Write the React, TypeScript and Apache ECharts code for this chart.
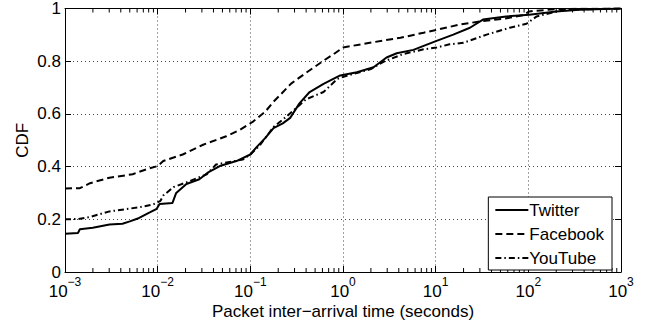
import React, { useEffect, useRef } from "react";
import * as echarts from "echarts";

// x values are log10(seconds); y values are CDF
const twitterX = [-3, -2.86, -2.84, -2.7, -2.52, -2.38, -2.3, -2.2, -2.08, -2.01, -1.98, -1.84, -1.8, -1.69, -1.55, -1.46, -1.33, -1.15, -1.0, -0.93, -0.84, -0.75, -0.65, -0.57, -0.47, -0.36, -0.21, -0.03, 0.15, 0.33, 0.47, 0.58, 0.76, 0.87, 1.01, 1.19, 1.37, 1.51, 1.76, 2.01, 2.3, 2.55, 3];
const twitterY = [0.145, 0.148, 0.162, 0.168, 0.18, 0.183, 0.192, 0.205, 0.227, 0.24, 0.258, 0.262, 0.3, 0.334, 0.352, 0.377, 0.402, 0.421, 0.446, 0.475, 0.508, 0.546, 0.564, 0.585, 0.64, 0.683, 0.714, 0.746, 0.758, 0.777, 0.814, 0.83, 0.843, 0.858, 0.877, 0.901, 0.927, 0.958, 0.97, 0.976, 0.989, 0.995, 1];

const facebookX = [-3, -2.84, -2.73, -2.52, -2.27, -2.12, -2.0, -1.94, -1.73, -1.51, -1.26, -1.11, -0.97, -0.84, -0.75, -0.68, -0.56, -0.39, -0.21, -0.1, 0.0, 0.29, 0.62, 0.87, 1.26, 1.48, 1.75, 1.95, 2.01, 2.3, 3];
const facebookY = [0.317, 0.318, 0.337, 0.358, 0.371, 0.39, 0.402, 0.421, 0.446, 0.483, 0.515, 0.54, 0.571, 0.608, 0.646, 0.671, 0.715, 0.758, 0.802, 0.827, 0.852, 0.87, 0.889, 0.908, 0.939, 0.951, 0.962, 0.975, 0.989, 0.998, 1];

const youtubeX = [-3, -2.86, -2.73, -2.52, -2.19, -2.05, -1.97, -1.94, -1.83, -1.69, -1.47, -1.37, -1.08, -1.0, -0.9, -0.75, -0.61, -0.47, -0.4, -0.21, -0.06, 0.04, 0.3, 0.45, 0.65, 0.87, 1.01, 1.15, 1.3, 1.55, 1.8, 1.98, 2.09, 2.38, 3];
const youtubeY = [0.2, 0.201, 0.209, 0.23, 0.246, 0.256, 0.27, 0.29, 0.322, 0.34, 0.371, 0.408, 0.427, 0.446, 0.48, 0.55, 0.59, 0.633, 0.655, 0.683, 0.733, 0.745, 0.77, 0.8, 0.827, 0.845, 0.852, 0.864, 0.87, 0.901, 0.927, 0.942, 0.97, 0.995, 1];

const decades = [-3, -2, -1, 0, 1, 2];
const minorMultipliers = [2, 3, 4, 5, 6, 7, 8, 9];
const seriesNames = ["Twitter", "Facebook", "YouTube"];

const FONT = "'Liberation Sans', Arial, Helvetica, sans-serif";

function pairs(xs: number[], ys: number[]) {
  return xs.map((x, i) => [x, ys[i]]);
}

export default function App() {
  const ref = useRef<HTMLDivElement>(null);
  useEffect(() => {
    document.body.style.margin = "0";
    if (!ref.current) return;
    const chart = echarts.init(ref.current, null, { renderer: "svg" });
    const minorTicks: number[][] = [];
    decades.forEach((d) => minorMultipliers.forEach((m) => minorTicks.push([d + Math.log10(m), 0])));

    const xBase = {
      type: "value",
      min: -3,
      max: 3,
      interval: 1,
      axisLine: { onZero: false, lineStyle: { color: "#000", width: 1 } },
      axisTick: { inside: true, length: 6, lineStyle: { color: "#000" } },
      splitLine: { show: false },
    };
    const yBase = {
      type: "value",
      min: 0,
      max: 1,
      interval: 0.2,
      axisLine: { onZero: false, lineStyle: { color: "#000", width: 1 } },
      axisTick: { inside: true, length: 6, lineStyle: { color: "#000" } },
      splitLine: { show: false },
    };

    chart.setOption({
      animation: false,
      backgroundColor: "#fff",
      textStyle: { fontFamily: FONT },
      grid: { left: 65, right: 31, top: 5, bottom: 56 },
      xAxis: [
        {
          ...xBase,
          position: "bottom",
          name: "Packet inter\u2212arrival time (seconds)",
          nameLocation: "middle",
          nameGap: 31,
          nameMoveOverlap: false,
          nameTextStyle: { fontSize: 17, color: "#000", fontFamily: FONT, lineHeight: 17 },
          splitLine: { show: true, lineStyle: { color: "#444", type: [1, 3], width: 1 } },
          axisLabel: {
            margin: 11,
            color: "#000",
            formatter: (v: number) => {
              const e = Math.round(v);
              return `{b|10}{s|${e < 0 ? "\u2212" : ""}${Math.abs(e)}}`;
            },
            rich: {
              b: { fontSize: 17, fontFamily: FONT, color: "#000", lineHeight: 17, verticalAlign: "bottom" },
              s: { fontSize: 12, fontFamily: FONT, color: "#000", lineHeight: 5, verticalAlign: "bottom", padding: [0, 0, 12, 0] },
            },
          },
        },
        {
          ...xBase,
          position: "top",
          axisLabel: { show: false },
        },
      ],
      yAxis: [
        {
          ...yBase,
          position: "left",
          name: "CDF",
          nameLocation: "middle",
          nameGap: 34,
          nameMoveOverlap: false,
          nameTextStyle: { fontSize: 17, color: "#000", fontFamily: FONT },
          splitLine: { show: true, lineStyle: { color: "#444", type: [1, 3], width: 1 } },
          axisLabel: { margin: 4, fontSize: 17, color: "#000", fontFamily: FONT },
        },
        {
          ...yBase,
          position: "right",
          axisLabel: { show: false },
        },
      ],
      legend: {
        data: seriesNames,
        orient: "vertical",
        right: 40,
        bottom: 58,
        backgroundColor: "#fff",
        borderColor: "#000",
        borderWidth: 1,
        borderRadius: 0,
        padding: [3, 8, 2, 6],
        itemWidth: 33,
        itemHeight: 12,
        itemGap: 4,
        itemStyle: { opacity: 0 },
        textStyle: { fontSize: 17, color: "#000", fontFamily: FONT, padding: [0, 0, 0, -4], lineHeight: 20 },
      },
      series: [
        {
          name: "Twitter",
          type: "line",
          data: pairs(twitterX, twitterY),
          symbol: "none",
          lineStyle: { color: "#000", width: 2, type: "solid" },
          itemStyle: { color: "#000" },
          z: 3,
        },
        {
          name: "Facebook",
          type: "line",
          data: pairs(facebookX, facebookY),
          symbol: "none",
          lineStyle: { color: "#000", width: 2, type: [7, 4] },
          itemStyle: { color: "#000" },
          z: 3,
        },
        {
          name: "YouTube",
          type: "line",
          data: pairs(youtubeX, youtubeY),
          symbol: "none",
          lineStyle: { color: "#000", width: 2, type: [6, 3, 1.5, 3] },
          itemStyle: { color: "#000" },
          z: 3,
        },
        {
          name: "minorTicks",
          type: "custom",
          silent: true,
          data: minorTicks,
          z: 2,
          renderItem: (params: any, api: any) => {
            const v = api.value(0);
            const b = api.coord([v, 0]);
            const t = api.coord([v, 1]);
            return {
              type: "group",
              children: [
                { type: "line", shape: { x1: b[0], y1: b[1], x2: b[0], y2: b[1] - 4 }, style: { stroke: "#000", lineWidth: 1 } },
                { type: "line", shape: { x1: t[0], y1: t[1], x2: t[0], y2: t[1] + 4 }, style: { stroke: "#000", lineWidth: 1 } },
              ],
            };
          },
        },
      ],
    });
    return () => chart.dispose();
  }, []);
  return <div ref={ref} style={{ width: 652, height: 328 }} />;
}
